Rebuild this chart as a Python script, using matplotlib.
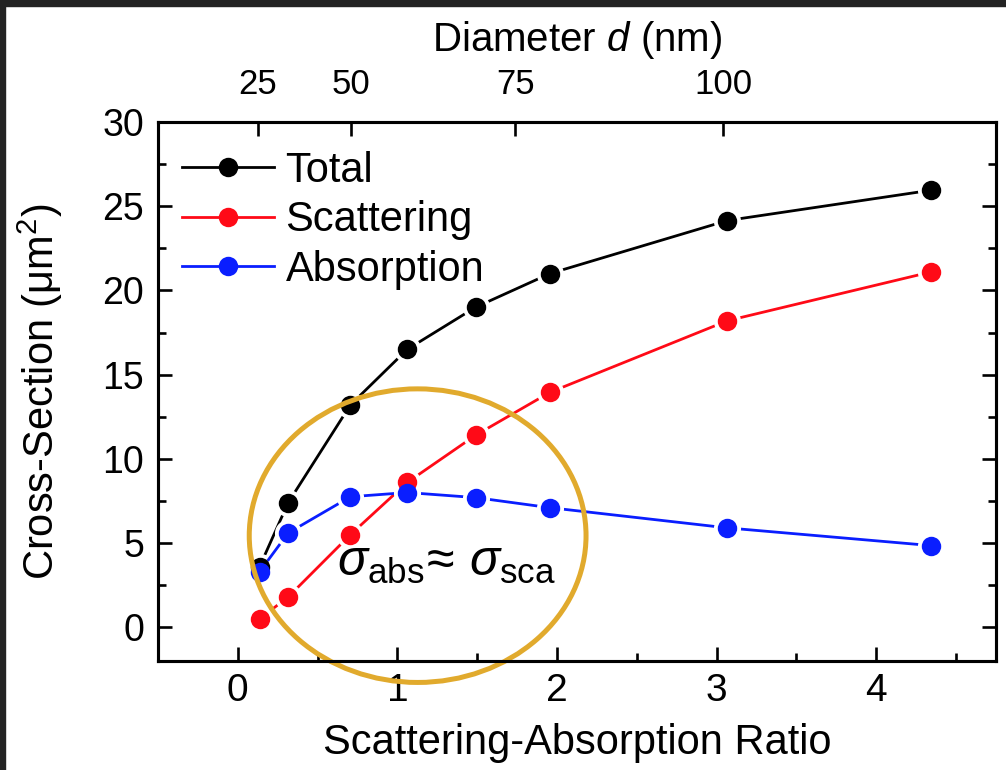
import numpy as np
import matplotlib
matplotlib.use("Agg")
import matplotlib.pyplot as plt
from matplotlib.patches import Ellipse, Rectangle
from matplotlib.lines import Line2D
from matplotlib.ticker import MultipleLocator

plt.rcParams['font.family'] = ['Liberation Sans', 'DejaVu Sans']
plt.rcParams['mathtext.fontset'] = 'custom'
plt.rcParams['mathtext.rm'] = 'Liberation Sans'
plt.rcParams['mathtext.it'] = 'Liberation Sans:italic'

# scattering / absorption ratio for each particle size
ratio = [0.137, 0.316, 0.706, 1.062, 1.49, 1.956, 3.068, 4.345]
total = [3.6, 7.4, 13.2, 16.5, 19.0, 21.0, 24.15, 25.95]
scattering = [0.5, 1.8, 5.5, 8.6, 11.4, 13.95, 18.2, 21.1]
absorption = [3.3, 5.6, 7.75, 8.0, 7.7, 7.1, 5.9, 4.85]

# diameter axis (top): where each diameter falls on the ratio axis
d_tick_pos = [0.125, 0.71, 1.74, 3.04]
d_tick_labels = ['25', '50', '75', '100']

series = [('Total', total, 'black'),
          ('Scattering', scattering, '#FF0A17'),
          ('Absorption', absorption, '#0A1EFF')]

fig = plt.figure(figsize=(10.06, 7.7), dpi=100)
ax = fig.add_axes([0.157, 0.1416, 0.833, 0.7000])

# lines broken around the points, then the points on top
for name, y, c in series:
    ax.plot(ratio, y, '-', color=c, lw=2.0, marker='o', ms=18.5,
            mfc='white', mec='white', zorder=2)
for name, y, c in series:
    ax.plot(ratio, y, 'o', color=c, ms=14, mec='none', zorder=3)

ax.set_xlim(-0.5, 4.75)
ax.set_ylim(-2, 30)
ax.xaxis.set_major_locator(MultipleLocator(1))
ax.xaxis.set_minor_locator(MultipleLocator(0.5))
ax.yaxis.set_major_locator(MultipleLocator(5))
ax.yaxis.set_minor_locator(MultipleLocator(2.5))
ax.tick_params(which='both', direction='in', width=1.9, right=True)
ax.tick_params(which='major', length=10)
ax.tick_params(which='minor', length=5.5)
ax.tick_params(axis='x', labelsize=28, pad=9)
ax.tick_params(axis='y', labelsize=27, pad=10)
for s in ax.spines.values():
    s.set_linewidth(2.2)

ax.set_xlabel('Scattering-Absorption Ratio', fontsize=30, labelpad=10)
ax.set_ylabel('Cross-Section (μm$^2$)', fontsize=30, labelpad=27)

ax2 = ax.twiny()
ax2.set_xlim(ax.get_xlim())
ax2.set_xticks(d_tick_pos)
ax2.set_xticklabels(d_tick_labels)
ax2.tick_params(direction='in', length=10, width=1.9, labelsize=25, pad=15)
ax2.set_xlabel('Diameter $d$ (nm)', fontsize=29, labelpad=12)
for s in ax2.spines.values():
    s.set_linewidth(2.2)

handles = [Line2D([], [], color=c, lw=2.0, marker='o', ms=14, mec='none')
           for _, _, c in series]
ax.legend(handles, [n for n, _, _ in series], loc='upper left',
          bbox_to_anchor=(0.029, 0.947), frameon=False, fontsize=30,
          handlelength=2.2, handletextpad=0.28, labelspacing=0.23,
          borderpad=0, borderaxespad=0, numpoints=1)

ring = Ellipse((1.127, 5.44), 2.11, 17.43, fill=False, ec='#E1AA2D',
               lw=3.6, clip_on=False, zorder=4)
ax.add_patch(ring)
ax.text(0.62, 3.08, r'$\sigma_{\mathrm{abs}}\!\approx\,\sigma_{\mathrm{sca}}$',
        fontsize=36, ha='left', va='baseline', zorder=5)

# dark edge along the top and left
fig.patches.append(Rectangle((0, 1 - 6 / 770), 1, 6 / 770, transform=fig.transFigure,
                             color='#232323', zorder=0))
fig.patches.append(Rectangle((0, 0), 4.5 / 1006, 1, transform=fig.transFigure,
                             color='#232323', zorder=0))

fig.savefig('out.png', dpi=100)
